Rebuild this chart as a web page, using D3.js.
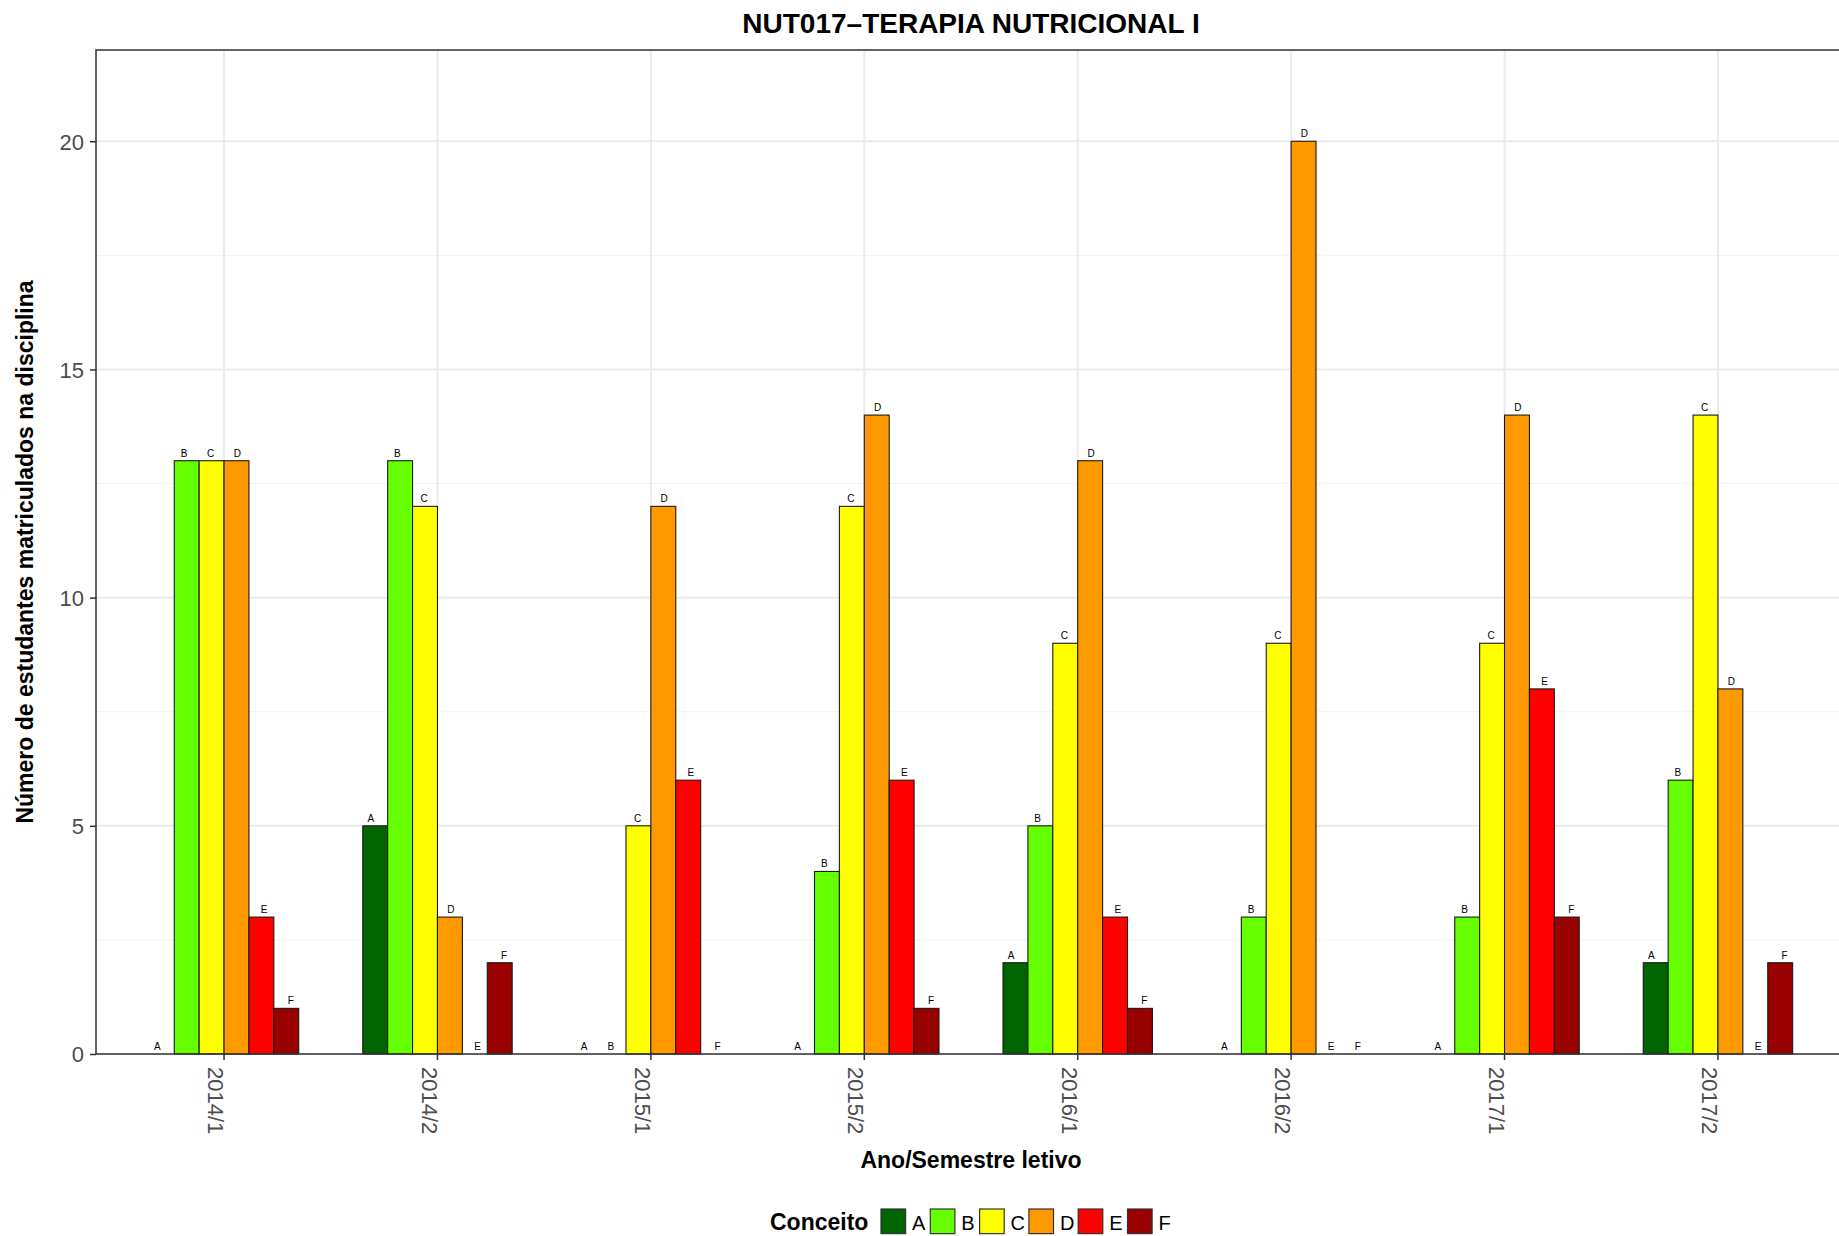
<!DOCTYPE html>
<html>
<head>
<meta charset="utf-8">
<script src="https://cdn.jsdelivr.net/npm/d3@7"></script>
<style>
    body { margin: 0; background: #fff; }
    text { font-family: "Liberation Sans", Arial, Helvetica, sans-serif; }
</style>
</head>
<body>
<div id="chart"></div>
<script>
// Data
var semesters = ["2014/1", "2014/2", "2015/1", "2015/2", "2016/1", "2016/2", "2017/1", "2017/2"];
var grades = ["A", "B", "C", "D", "E", "F"];
var gradeA = [0, 5, 0, 0, 2, 0, 0, 2];
var gradeB = [13, 13, 0, 4, 5, 3, 3, 6];
var gradeC = [13, 12, 5, 12, 9, 9, 9, 14];
var gradeD = [13, 3, 12, 14, 13, 20, 14, 8];
var gradeE = [3, 0, 6, 6, 3, 0, 8, 0];
var gradeF = [1, 2, 0, 1, 1, 0, 3, 2];
var yTicks = [0, 5, 10, 15, 20];
var yMinor = [2.5, 7.5, 12.5, 17.5];
var gradeColors = ["#006400", "#66FF00", "#FFFF00", "#FF9900", "#FF0000", "#990000"];

var series = [gradeA, gradeB, gradeC, gradeD, gradeE, gradeF];

// Flatten into rows for drawing
var rows = [];
semesters.forEach(function (s, i) {
    grades.forEach(function (g, j) {
        rows.push({ semester: s, grade: g, value: series[j][i] });
    });
});

var W = 1839, H = 1236;
var margin = { top: 50, left: 96 };
var panelRight = 1846, panelBottom = 1054;

var svg = d3.select("#chart")
    .append("svg")
    .attr("width", W)
    .attr("height", H);

// Scales
var x = d3.scaleBand()
    .domain(semesters)
    .range([margin.left, panelRight])
    .paddingOuter(0.1);   // discrete expansion of 0.6 units each side

var y = d3.scaleLinear()
    .domain([0, 22])
    .range([panelBottom, margin.top]);

var color = d3.scaleOrdinal().domain(grades).range(gradeColors);

// bars dodge over 0.7 of a slot, labels over 0.75
var xBar = d3.scaleBand().domain(grades).range([-0.35 * x.step(), 0.35 * x.step()]);
var xLab = d3.scaleBand().domain(grades).range([-0.375 * x.step(), 0.375 * x.step()]);

var cx = function (s) { return x(s) + x.bandwidth() / 2; };

// Panel background + grid
var grid = svg.append("g");
grid.selectAll(".minor")
    .data(yMinor)
    .enter()
    .append("line")
    .attr("x1", margin.left).attr("x2", panelRight)
    .attr("y1", d => y(d)).attr("y2", d => y(d))
    .attr("stroke", "#f2f2f2")
    .attr("stroke-width", 1);

grid.selectAll(".major")
    .data(yTicks)
    .enter()
    .append("line")
    .attr("x1", margin.left).attr("x2", panelRight)
    .attr("y1", d => y(d)).attr("y2", d => y(d))
    .attr("stroke", "#ebebeb")
    .attr("stroke-width", 2);

grid.selectAll(".vmajor")
    .data(semesters)
    .enter()
    .append("line")
    .attr("x1", d => cx(d)).attr("x2", d => cx(d))
    .attr("y1", margin.top).attr("y2", panelBottom)
    .attr("stroke", "#ebebeb")
    .attr("stroke-width", 2);

// Bars
svg.append("g")
    .selectAll("rect")
    .data(rows.filter(d => d.value > 0))
    .enter()
    .append("rect")
    .attr("x", d => cx(d.semester) + xBar(d.grade))
    .attr("y", d => y(d.value))
    .attr("width", xBar.bandwidth())
    .attr("height", d => y(0) - y(d.value))
    .attr("fill", d => color(d.grade))
    .attr("stroke", "#1a1a1a")
    .attr("stroke-width", 1.1);

// Bar labels
svg.append("g")
    .selectAll("text")
    .data(rows)
    .enter()
    .append("text")
    .attr("x", d => cx(d.semester) + xLab(d.grade) + xLab.bandwidth() / 2)
    .attr("y", d => y(d.value) - 4)
    .attr("text-anchor", "middle")
    .style("font-size", "10px")
    .attr("fill", "#000")
    .text(d => d.grade);

// Panel border
svg.append("rect")
    .attr("x", margin.left)
    .attr("y", margin.top)
    .attr("width", panelRight - margin.left)
    .attr("height", panelBottom - margin.top)
    .attr("fill", "none")
    .attr("stroke", "#333333")
    .attr("stroke-width", 1.5);

// Y axis
var yAxis = d3.axisLeft(y)
    .tickValues(yTicks)
    .tickSize(6)
    .tickPadding(6);

var gy = svg.append("g")
    .attr("transform", "translate(" + margin.left + ",0)")
    .call(yAxis);
gy.select(".domain").remove();
gy.selectAll("line").attr("stroke", "#333333").attr("stroke-width", 1.5);
gy.selectAll("text")
    .attr("fill", "#4d4d4d")
    .style("font-size", "22px")
    .attr("dy", "0.36em");

// X axis with labels rotated downwards
var xAxis = d3.axisBottom(x).tickSize(6);
var gx = svg.append("g")
    .attr("transform", "translate(0," + panelBottom + ")")
    .call(xAxis);
gx.select(".domain").remove();
gx.selectAll("line").attr("stroke", "#333333").attr("stroke-width", 1.5);
gx.selectAll("text")
    .attr("fill", "#4d4d4d")
    .style("font-size", "22px")
    .attr("text-anchor", "start")
    .attr("x", 0)
    .attr("y", 0)
    .attr("dy", "0.72em")
    .attr("transform", "translate(0,13) rotate(90)");

// Title and axis titles
svg.append("text")
    .attr("x", (margin.left + panelRight) / 2)
    .attr("y", 33)
    .attr("text-anchor", "middle")
    .style("font-size", "28px")
    .style("font-weight", "bold")
    .text("NUT017\u2013TERAPIA NUTRICIONAL I");

svg.append("text")
    .attr("x", (margin.left + panelRight) / 2)
    .attr("y", 1168)
    .attr("text-anchor", "middle")
    .style("font-size", "23px")
    .style("font-weight", "bold")
    .text("Ano/Semestre letivo");

svg.append("text")
    .attr("transform", "translate(33," + (margin.top + panelBottom) / 2 + ") rotate(-90)")
    .attr("text-anchor", "middle")
    .style("font-size", "23px")
    .style("font-weight", "bold")
    .text("Número de estudantes matriculados na disciplina");

// Legend
var legend = svg.append("g").attr("transform", "translate(0,1209)");
legend.append("text")
    .attr("x", 770)
    .attr("y", 21)
    .style("font-size", "23px")
    .style("font-weight", "bold")
    .text("Conceito");

var keys = legend.selectAll(".key")
    .data(grades)
    .enter()
    .append("g")
    .attr("transform", (d, i) => "translate(" + (881 + i * 49.3) + ",0)");

keys.append("rect")
    .attr("width", 24.6)
    .attr("height", 24.6)
    .attr("fill", d => color(d))
    .attr("stroke", "#333333")
    .attr("stroke-width", 1.2);

keys.append("text")
    .attr("x", 31)
    .attr("y", 20.5)
    .style("font-size", "20px")
    .text(d => d);
</script>
</body>
</html>
